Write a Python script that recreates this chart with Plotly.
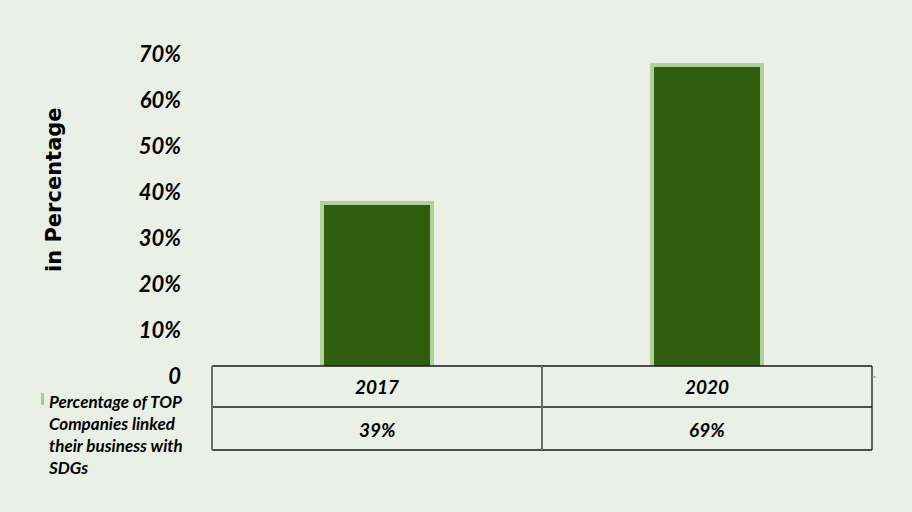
import plotly.graph_objects as go

# ---- data ----
categories = ["2017", "2020"]
values = [39, 69]
series_name = "Percentage of TOP<br>Companies linked<br>their business with<br>SDGs"
y_ticks = [0, 10, 20, 30, 40, 50, 60, 70]
y_tick_labels = ["0", "10%", "20%", "30%", "40%", "50%", "60%", "70%"]
y_title = "in Percentage"

BG = "#EBF0E6"
BAR = "#2F5E0F"
BAR_EDGE = "#B0D29A"
FONT = "Lato"

fig = go.Figure()
fig.add_trace(go.Bar(
    x=[0, 1], y=values, width=0.333,
    marker=dict(color=BAR, line=dict(color=BAR_EDGE, width=4)),
    name=series_name, showlegend=False,
))

W, H = 912, 512
L, R, T, B = 212, 40, 30, 62
z0, a = 382.0, 4.6  # pixel of zero, px per unit
ytop = (z0 - T) / a
ybot = (z0 - (H - B)) / a

fig.update_layout(
    width=W, height=H,
    margin=dict(l=L, r=R, t=T, b=B),
    paper_bgcolor=BG, plot_bgcolor=BG,
    bargap=0,
    xaxis=dict(range=[-0.5, 1.5], showticklabels=False, showgrid=False,
               zeroline=False, showline=False, ticks=""),
    yaxis=dict(range=[ybot, ytop], tickvals=y_ticks, ticktext=y_tick_labels,
               showgrid=False, zeroline=False, showline=False, ticks="",
               ticklabelstandoff=30, ticklabelshift=-6,
               tickfont=dict(family=FONT, size=22, color="#000000", weight="bold", style="italic")),
)

def py(px):
    return ((H - B) - px) / (H - B - T)

def pxx(px):
    return (px - L) / (W - L - R)

y_top, y_mid, y_bot = py(366), py(407), py(450)

shapes = []
shapes.append(dict(type="rect", xref="paper", yref="paper", x0=-0.001, x1=1.001,
                   y0=-0.01, y1=y_top, fillcolor=BG, line=dict(width=0), layer="above"))
dark = dict(color="#1a1a1a", width=1.3)
gray = dict(color="#6b6b6b", width=2)
for yy in (y_top, y_mid, y_bot):
    shapes.append(dict(type="line", xref="paper", yref="paper", x0=0, x1=1, y0=yy, y1=yy,
                       line=dark, layer="above"))
shapes.append(dict(type="line", xref="paper", yref="paper", x0=0, x1=0, y0=y_bot, y1=y_top,
                   line=gray, layer="above"))
shapes.append(dict(type="line", xref="paper", yref="paper", x0=0.5, x1=0.5, y0=y_bot, y1=y_top,
                   line=gray, layer="above"))
shapes.append(dict(type="line", xref="paper", yref="paper", x0=1, x1=1, y0=y_bot, y1=y_top,
                   line=dark, layer="above"))
shapes.append(dict(type="line", xref="paper", yref="paper", x0=1, x1=pxx(876), y0=py(377), y1=py(377),
                   line=dict(color="#888888", width=1), layer="above"))
shapes.append(dict(type="rect", xref="paper", yref="paper", x0=pxx(41), x1=pxx(44),
                   y0=py(405), y1=py(393), fillcolor="#9FD08A", line=dict(width=0), layer="above"))

cell_font = dict(family=FONT, size=19, color="#000", weight="bold", style="italic")
annotations = []
for i, (c, v) in enumerate(zip(categories, values)):
    annotations.append(dict(x=i, xref="x", y=py(386.5), yref="paper", text=c, showarrow=False,
                            xanchor="center", yanchor="middle", font=cell_font))
    annotations.append(dict(x=i, xref="x", y=py(429.5), yref="paper", text=f"{v}%", showarrow=False,
                            xanchor="center", yanchor="middle", font=cell_font))
annotations.append(dict(x=pxx(46), xref="paper", y=py(389), yref="paper", text=series_name,
                        showarrow=False, xanchor="left", yanchor="top", align="left",
                        font=dict(family=FONT, size=17, color="#000", weight="bold", style="italic")))
annotations.append(dict(x=pxx(54), xref="paper", y=py(190), yref="paper", text=y_title,
                        showarrow=False, textangle=-90, xanchor="center", yanchor="middle",
                        font=dict(family="DejaVu Sans", size=21, color="#000", weight="bold")))

fig.update_layout(shapes=shapes, annotations=annotations)
fig.write_html("out.html", config={"displayModeBar": False},
               post_script="document.body.style.margin='0';")
